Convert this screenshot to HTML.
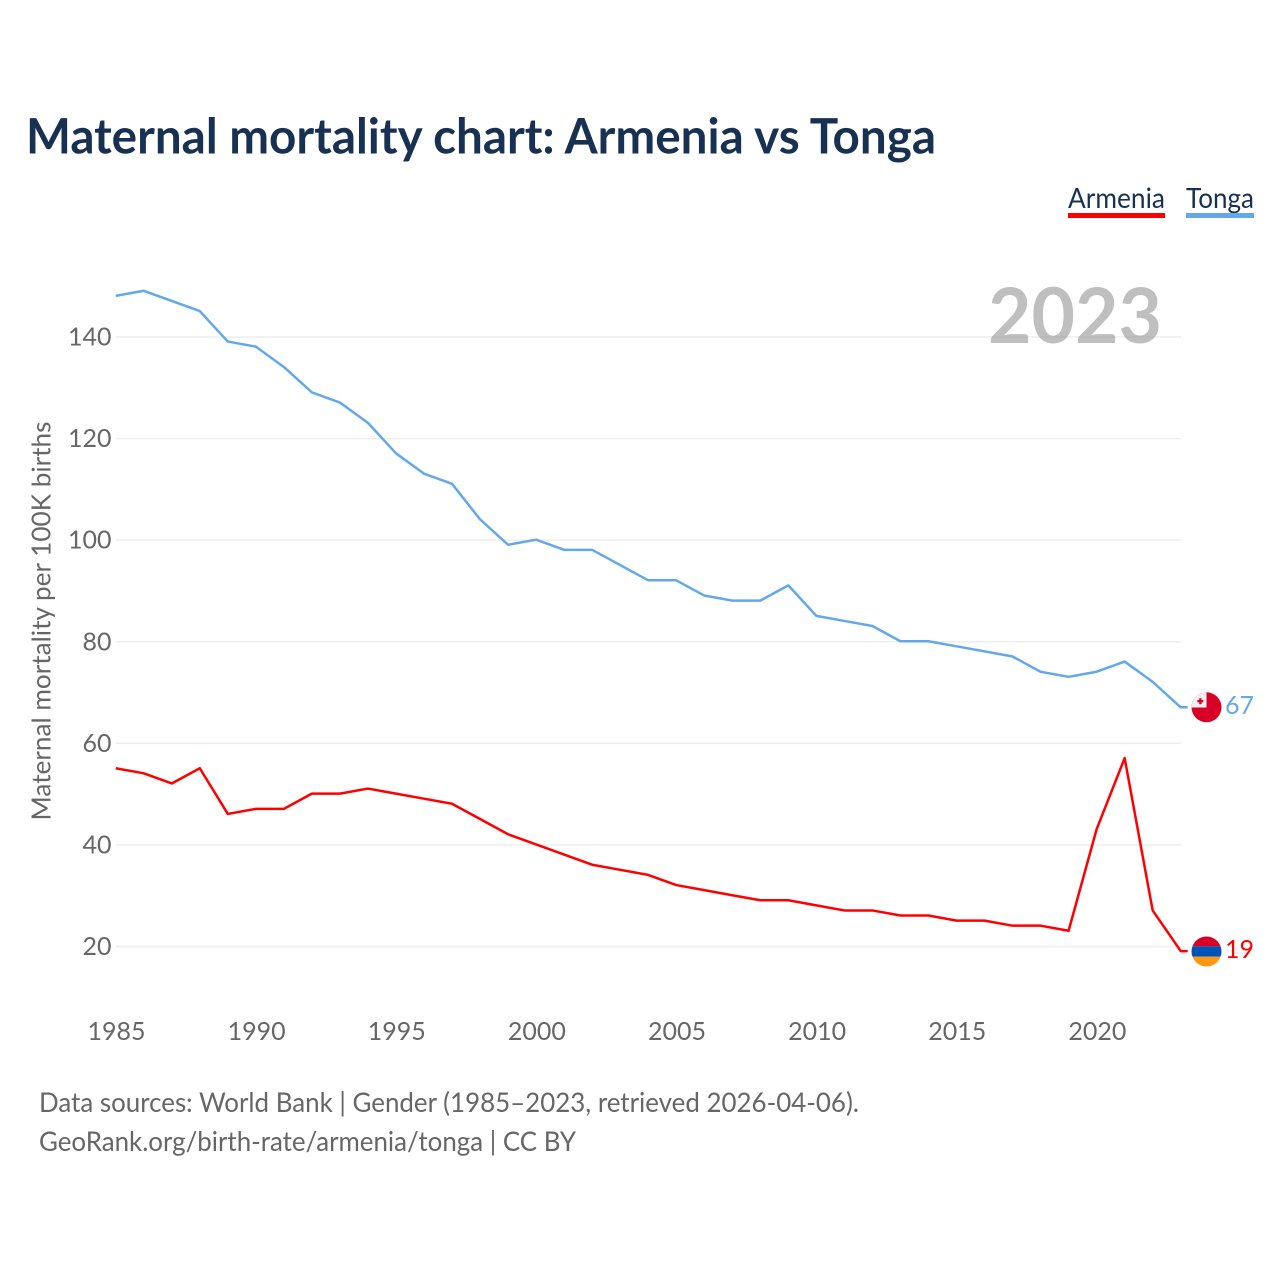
<!DOCTYPE html>
<html lang="en">
<head>
<meta charset="utf-8">
<title>Maternal mortality chart: Armenia vs Tonga</title>
<style>
html,body{margin:0;padding:0;background:#fff;}
svg{display:block;}
text{font-family:"Lato","Carlito","Liberation Sans",sans-serif;}
</style>
</head>
<body>
<svg id="chart" xmlns="http://www.w3.org/2000/svg" width="1280" height="1280" viewBox="0 0 1280 1280">
  <rect x="0" y="0" width="1280" height="1280" fill="#ffffff"/>
  <text x="26" y="153.5" font-size="49" font-weight="700" fill="#183153" textLength="910" lengthAdjust="spacingAndGlyphs">Maternal mortality chart: Armenia vs Tonga</text>

  <g>
    <g>
      <text x="1068" y="208" font-size="28" fill="#183153" textLength="97" lengthAdjust="spacingAndGlyphs">Armenia</text>
      <rect x="1068" y="213" width="97" height="5" fill="#ff0000"/>
    </g>
    <g>
      <text x="1186" y="208" font-size="28" fill="#183153" textLength="68" lengthAdjust="spacingAndGlyphs">Tonga</text>
      <rect x="1186" y="213" width="68" height="5" fill="#63a8ec"/>
    </g>
  </g>

  <g id="grid"></g>
  <text x="1162" y="343" font-size="77" font-weight="700" fill="#808080" fill-opacity="0.5" text-anchor="end" textLength="174" lengthAdjust="spacingAndGlyphs">2023</text>
  <g id="yticks"></g>
  <g id="xticks"></g>

  <text transform="translate(50.5,621) rotate(-90)" font-size="26" fill="#666666" text-anchor="middle" textLength="399" lengthAdjust="spacingAndGlyphs">Maternal mortality per 100K births</text>

  <g id="series" transform="translate(-0.3,-0.5)"></g>

  <defs>
    <clipPath id="clip-tonga"><circle cx="1206.5" cy="707.3" r="15"/></clipPath>
    <clipPath id="clip-armenia"><circle cx="1206.5" cy="951.5" r="15"/></clipPath>
  </defs>

  <g clip-path="url(#clip-tonga)">
    <rect x="1191" y="692" width="31" height="31" fill="#d80027"/>
    <rect x="1191" y="692" width="15.5" height="15.5" fill="#f0f0f0"/>
    <rect x="1197.3" y="700" width="6" height="2.3" fill="#d80027"/>
    <rect x="1199.2" y="698.2" width="2.3" height="6" fill="#d80027"/>
  </g>
  <g clip-path="url(#clip-armenia)">
    <rect x="1191" y="936" width="31" height="10.3" fill="#d80027"/>
    <rect x="1191" y="946.3" width="31" height="10.4" fill="#0052b4"/>
    <rect x="1191" y="956.7" width="31" height="10.3" fill="#ff9811"/>
  </g>

  <text id="end-tonga" x="1254" y="714" font-size="25" fill="#63a8ec" text-anchor="end"></text>
  <text id="end-armenia" x="1254" y="958" font-size="25" fill="#ff0000" text-anchor="end"></text>

  <g>
    <text x="39" y="1112" font-size="27" fill="#666666" textLength="820" lengthAdjust="spacingAndGlyphs">Data sources: World Bank | Gender (1985–2023, retrieved 2026-04-06).</text>
    <text x="39" y="1151" font-size="27" fill="#666666" textLength="537" lengthAdjust="spacingAndGlyphs">GeoRank.org/birth-rate/armenia/tonga | CC BY</text>
  </g>
</svg>
<script>
const years = [1985,1986,1987,1988,1989,1990,1991,1992,1993,1994,1995,1996,1997,1998,1999,2000,2001,2002,2003,2004,2005,2006,2007,2008,2009,2010,2011,2012,2013,2014,2015,2016,2017,2018,2019,2020,2021,2022,2023];
const tongaValues = [148,149,147,145,139,138,134,129,127,123,117,113,111,104,99,100,98,98,95,92,92,89,88,88,91,85,84,83,80,80,79,78,77,74,73,74,76,72,67];
const armeniaValues = [55,54,52,55,46,47,47,50,50,51,50,49,48,45,42,40,38,36,35,34,32,31,30,29,29,28,27,27,26,26,25,25,24,24,23,43,57,27,19];
const yTickLabels = [20,40,60,80,100,120,140];
const xTickLabels = [1985,1990,1995,2000,2005,2010,2015,2020];

const NS = 'http://www.w3.org/2000/svg';
function xScale(year){ return 116 + (year - 1985) * (1181 - 116) / 38; }
function yScale(v){ return 946.5 - (v - 20) * (946.5 - 337) / 120; }
function make(tag, attrs){
  const el = document.createElementNS(NS, tag);
  for (const k in attrs) el.setAttribute(k, attrs[k]);
  return el;
}

const grid = document.getElementById('grid');
const yticks = document.getElementById('yticks');
yTickLabels.forEach(function(v){
  const line = make('line', {x1:116, x2:1181, y1:yScale(v), y2:yScale(v), stroke:'#eeeeee', 'stroke-width':1.5});
  
  
  grid.appendChild(line);
  const t = make('text', {x:111.5, y:yScale(v) + 8.5, 'font-size':25, fill:'#666666', 'text-anchor':'end'});
  
  
  t.textContent = v;
  yticks.appendChild(t);
});

const xticks = document.getElementById('xticks');
xTickLabels.forEach(function(y){
  const t = make('text', {x:xScale(y) + 0.5, y:1040, 'font-size':25, fill:'#666666', 'text-anchor':'middle'});
  
  
  t.textContent = y;
  xticks.appendChild(t);
});

function linePath(values){
  let d = values.map(function(v, i){
    return (i ? 'L' : 'M') + xScale(years[i]).toFixed(2) + ' ' + yScale(v).toFixed(2);
  }).join(' ');
  d += ' h7';
  return d;
}

const series = document.getElementById('series');
const tongaLine = make('path', {d:linePath(tongaValues), fill:'none', stroke:'#63a8ec', 'stroke-width':2.5, 'stroke-linejoin':'round'});


series.appendChild(tongaLine);
const armeniaLine = make('path', {d:linePath(armeniaValues), fill:'none', stroke:'#ff0000', 'stroke-width':2.5, 'stroke-linejoin':'round'});


series.appendChild(armeniaLine);

document.getElementById('end-tonga').textContent = tongaValues[tongaValues.length - 1];
document.getElementById('end-armenia').textContent = armeniaValues[armeniaValues.length - 1];
</script>
</body>
</html>
